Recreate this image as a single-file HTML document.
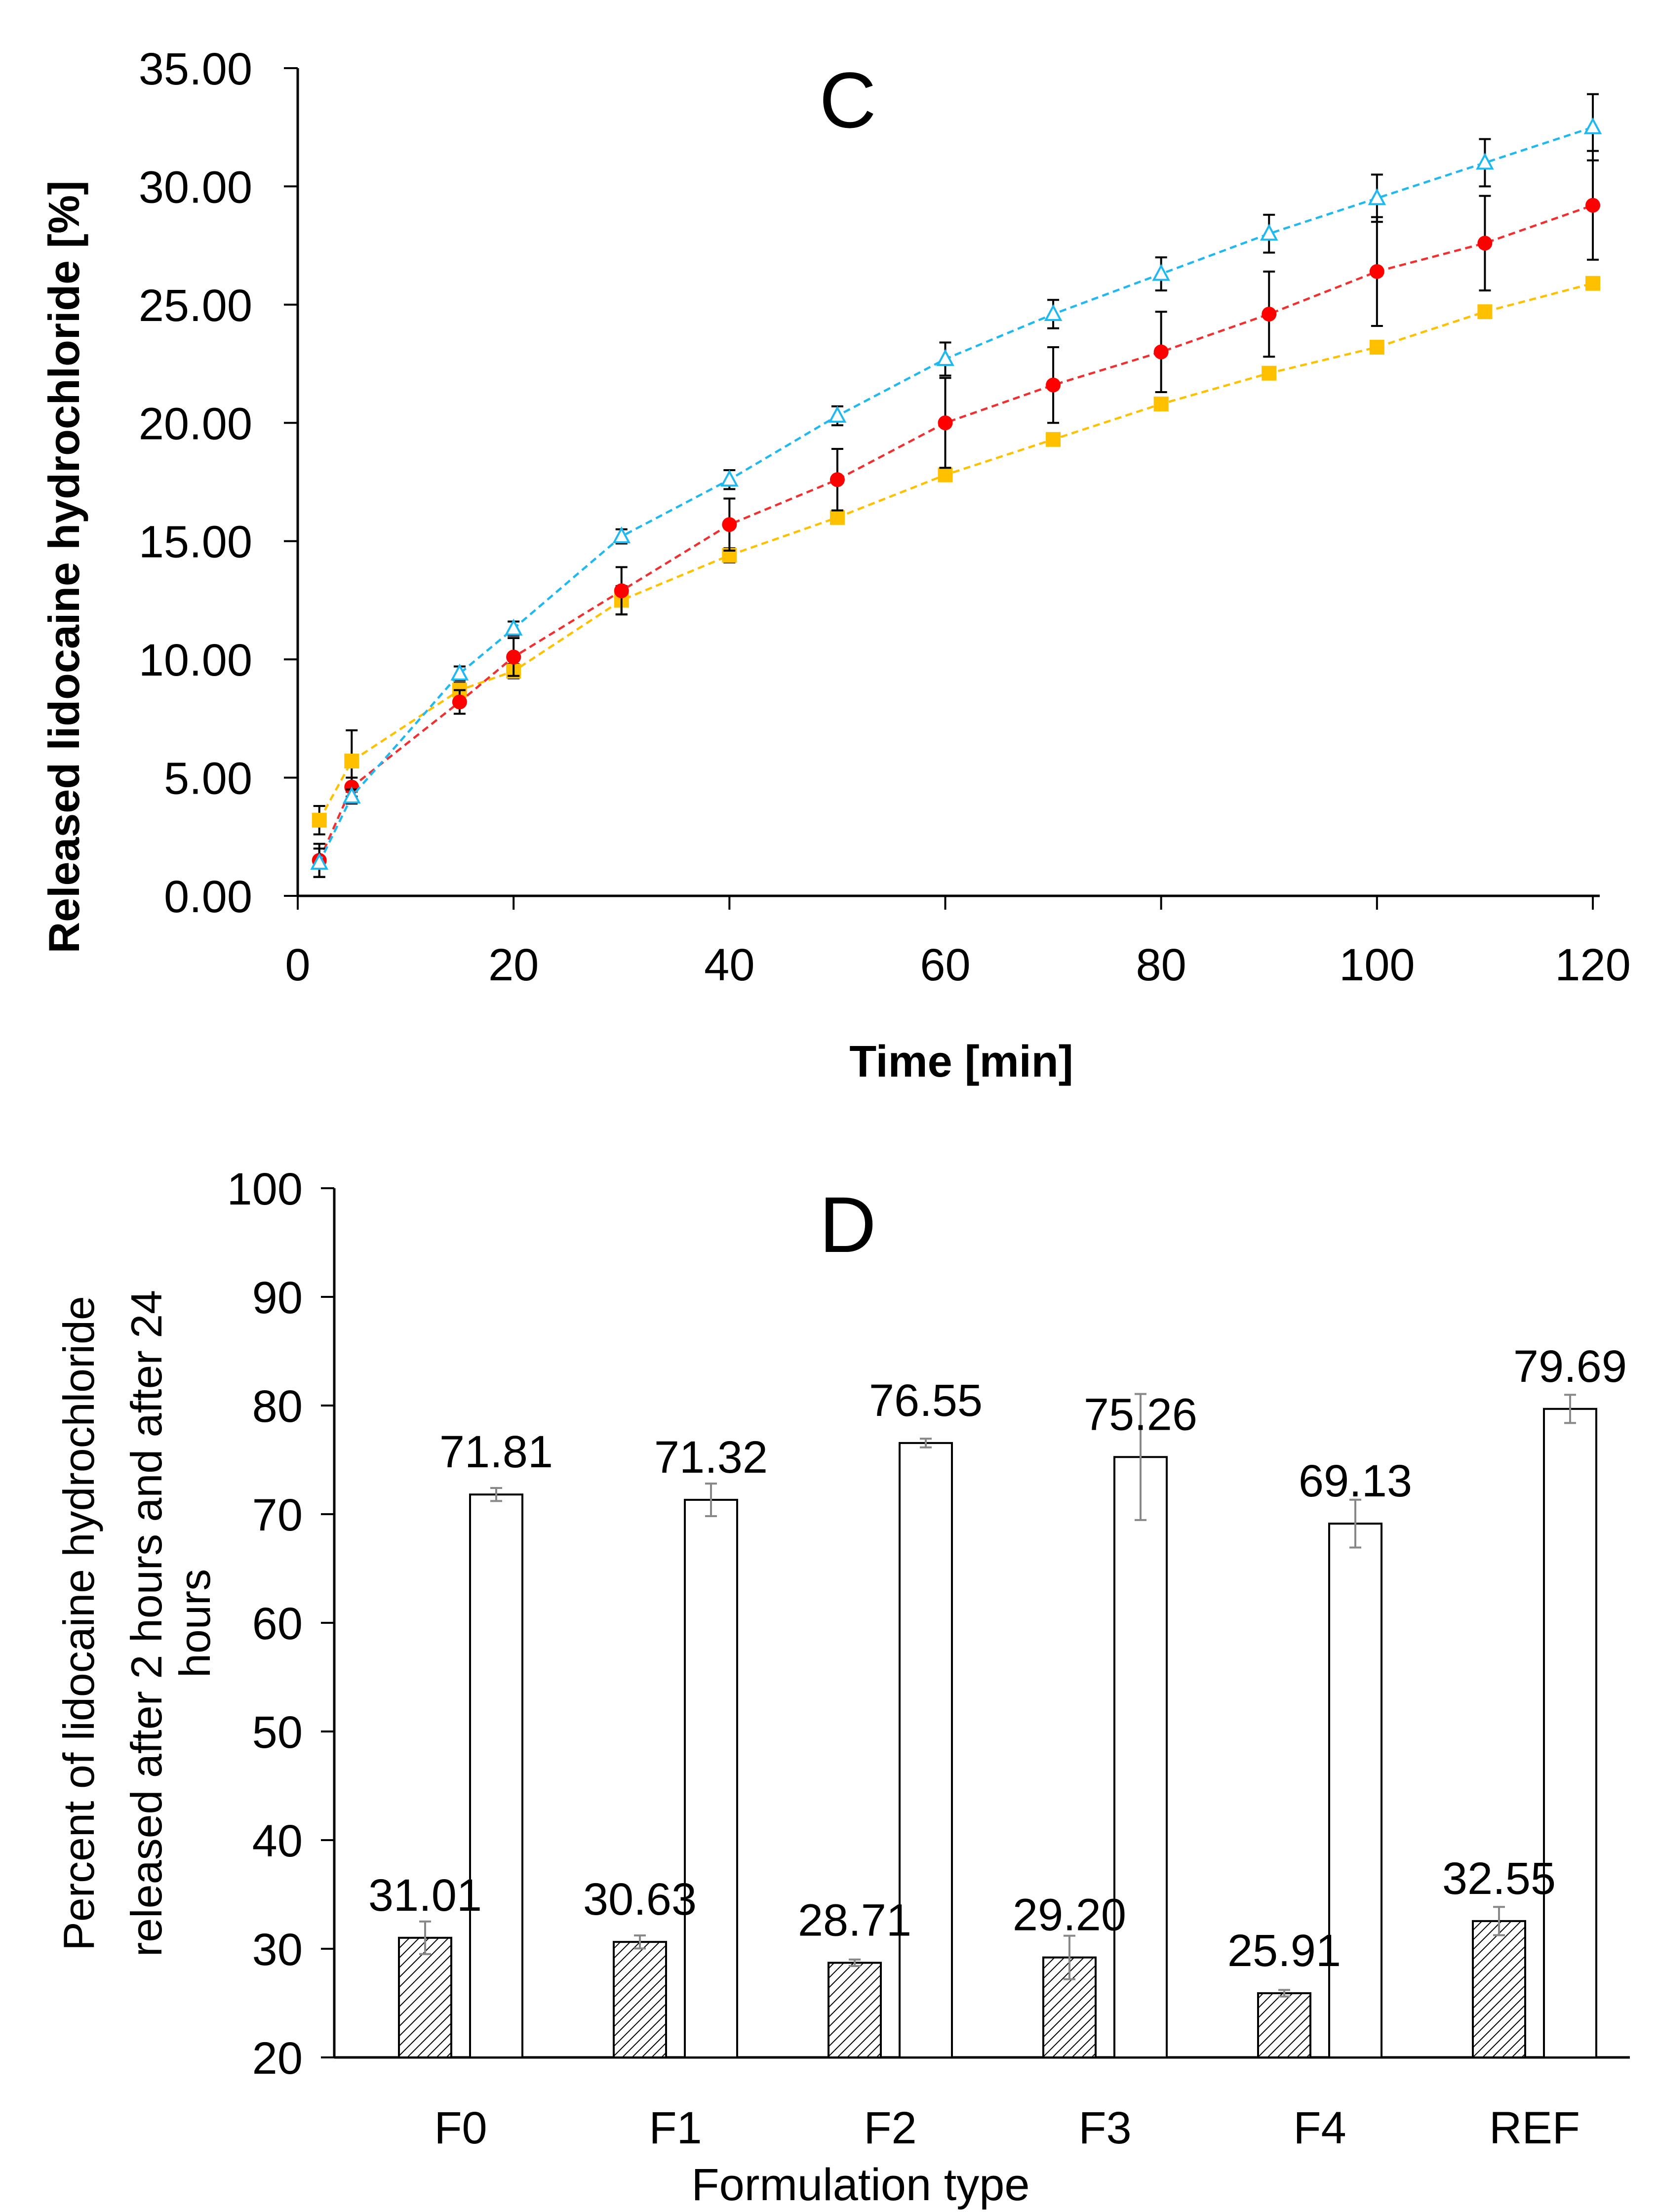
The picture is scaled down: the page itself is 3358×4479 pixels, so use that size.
<!DOCTYPE html>
<html><head><meta charset="utf-8"><style>
html,body{margin:0;padding:0;background:#fff}
svg{display:block}
text{font-family:"Liberation Sans",sans-serif}
</style></head><body>
<svg id="s" width="3358" height="4479" viewBox="0 0 3358 4479" xmlns="http://www.w3.org/2000/svg">
<defs>
<pattern id="hatch" patternUnits="userSpaceOnUse" width="14" height="14" patternTransform="rotate(45)">
<rect width="14" height="14" fill="#fff"/><line x1="0" y1="0" x2="0" y2="14" stroke="#000" stroke-width="4"/>
</pattern>
</defs>
<g id="top"></g>
<g id="bot"></g>
</svg>
<script>
const times=[2,5,15,20,30,40,50,60,70,80,90,100,110,120];
const blueVals=[1.4,4.2,9.4,11.3,15.2,17.6,20.3,22.7,24.6,26.3,28.0,29.5,31.0,32.5];
const blueErr=[0.6,0.3,0.3,0.3,0.3,0.4,0.4,0.7,0.6,0.7,0.8,1.0,1.0,1.4];
const redVals=[1.5,4.6,8.2,10.1,12.9,15.7,17.6,20.0,21.6,23.0,24.6,26.4,27.6,29.2];
const redErr=[0.7,0.4,0.5,0.8,1.0,1.1,1.3,1.9,1.6,1.7,1.8,2.3,2.0,2.3];
const yelVals=[3.2,5.7,8.7,9.5,12.5,14.4,16.0,17.8,19.3,20.8,22.1,23.2,24.7,25.9];
const yelErr=[0.6,1.3,0.3,0.3,0.6,0.3,0.2,0.2,0.2,0.2,0.2,0.2,0.2,0.2];
const yTicksTop=[0,5,10,15,20,25,30,35];
const xTicksTop=[0,20,40,60,80,100,120];

const cats=["F0","F1","F2","F3","F4","REF"];
const h2Vals=[31.01,30.63,28.71,29.20,25.91,32.55];
const h2Err=[1.5,0.6,0.3,2.0,0.3,1.3];
const h24Vals=[71.81,71.32,76.55,75.26,69.13,79.69];
const h24Err=[0.6,1.5,0.4,5.8,2.2,1.3];
const yTicksBot=[20,30,40,50,60,70,80,90,100];

const NS="http://www.w3.org/2000/svg";
function mk(parent,tag,attrs,txt){const e=document.createElementNS(NS,tag);for(const k in attrs)e.setAttribute(k,attrs[k]);if(txt!==undefined)e.textContent=txt;parent.appendChild(e);return e;}

// ---- top chart
const T=document.getElementById('top');
const xT=v=>603+(v/120)*(3226-603);
const yT=v=>1814-(v/35)*(1814-138);
let e;
e=mk(T,'line',{x1:603,y1:138,x2:603,y2:1814,stroke:'#000','stroke-width':5});


e=mk(T,'line',{x1:603,y1:1814,x2:3240,y2:1814,stroke:'#000','stroke-width':5});


yTicksTop.forEach(v=>{
  mk(T,'line',{x1:575,y1:yT(v),x2:603,y2:yT(v),stroke:'#000','stroke-width':4});
  e=mk(T,'text',{x:511,y:yT(v)+33,'text-anchor':'end','font-size':92},v.toFixed(2));
  
  
});
xTicksTop.forEach(v=>{
  mk(T,'line',{x1:xT(v),y1:1814,x2:xT(v),y2:1842,stroke:'#000','stroke-width':4});
  e=mk(T,'text',{x:xT(v),y:1985,'text-anchor':'middle','font-size':92},String(v));
  
  
});
e=mk(T,'text',{x:1947,y:2180,'text-anchor':'middle','font-size':90,'font-weight':'bold'},'Time [min]');


e=mk(T,'text',{x:0,y:0,'text-anchor':'middle','font-size':88,'font-weight':'bold',transform:'translate(160,1148) rotate(-90)'},'Released lidocaine hydrochloride [%]');


e=mk(T,'text',{x:1717,y:258,'text-anchor':'middle','font-size':160},'C');



function series(vals,errs,color,shape,name){
  const g=mk(T,'g',{});
  
  
  vals.forEach((v,i)=>{
    const x=xT(times[i]);
    mk(g,'line',{x1:x,y1:yT(v-errs[i]),x2:x,y2:yT(v+errs[i]),stroke:'#000','stroke-width':4});
    mk(g,'line',{x1:x-12,y1:yT(v-errs[i]),x2:x+12,y2:yT(v-errs[i]),stroke:'#000','stroke-width':4});
    mk(g,'line',{x1:x-12,y1:yT(v+errs[i]),x2:x+12,y2:yT(v+errs[i]),stroke:'#000','stroke-width':4});
  });
  const pts=vals.map((v,i)=>xT(times[i])+','+yT(v)).join(' ');
  mk(g,'polyline',{points:pts,fill:'none',stroke:color,'stroke-width':4.5,'stroke-dasharray':'14 9'});
  vals.forEach((v,i)=>{
    const x=xT(times[i]),y=yT(v);let m;
    if(shape==='tri') m=mk(g,'polygon',{points:`${x},${y-16} ${x-15},${y+12} ${x+15},${y+12}`,fill:'#fff',stroke:color,'stroke-width':4});
    else if(shape==='circ') m=mk(g,'circle',{cx:x,cy:y,r:15,fill:'#f00'});
    else m=mk(g,'rect',{x:x-15,y:y-15,width:30,height:30,fill:'#ffc000'});
    
    
  });
}
series(yelVals,yelErr,'#ffc000','sq','series-yellow');
series(redVals,redErr,'#f03030','circ','series-red');
series(blueVals,blueErr,'#20b8f0','tri','series-blue');

// ---- bottom chart
const B=document.getElementById('bot');
const yB=v=>4166-((v-20)/80)*(4166-2406);
const cx=i=>933+i*435;
e=mk(B,'line',{x1:677,y1:2406,x2:677,y2:4166,stroke:'#000','stroke-width':5});


e=mk(B,'line',{x1:677,y1:4166,x2:3301,y2:4166,stroke:'#000','stroke-width':5});


yTicksBot.forEach(v=>{
  mk(B,'line',{x1:650,y1:yB(v),x2:677,y2:yB(v),stroke:'#000','stroke-width':4});
  e=mk(B,'text',{x:613,y:yB(v)+33,'text-anchor':'end','font-size':92},String(v));
  
  
});
cats.forEach((c,i)=>{
  e=mk(B,'text',{x:cx(i),y:4340,'text-anchor':'middle','font-size':92},c);
  
  
});
function bar(v,err,x,fill,name){
  const r=mk(B,'rect',{x:x-53,y:yB(v),width:106,height:4166-yB(v),fill:fill,stroke:'#000','stroke-width':4});
  
  
  mk(B,'line',{x1:x,y1:yB(v-err),x2:x,y2:yB(v+err),stroke:'#888','stroke-width':4});
  mk(B,'line',{x1:x-12,y1:yB(v-err),x2:x+12,y2:yB(v-err),stroke:'#888','stroke-width':4});
  mk(B,'line',{x1:x-12,y1:yB(v+err),x2:x+12,y2:yB(v+err),stroke:'#888','stroke-width':4});
}
function label(v,x){
  const t=mk(B,'text',{x:x,y:yB(v)-55,'text-anchor':'middle','font-size':92},v.toFixed(2));
  
  
}
cats.forEach((c,i)=>{
  bar(h2Vals[i],h2Err[i],cx(i)-72,'url(#hatch)','bar-2h-'+c);
  bar(h24Vals[i],h24Err[i],cx(i)+72,'#fff','bar-24h-'+c);
});
cats.forEach((c,i)=>{
  label(h2Vals[i],cx(i)-72);
  label(h24Vals[i],cx(i)+72);
});
e=mk(B,'text',{x:1743,y:4455,'text-anchor':'middle','font-size':92},'Formulation type');


e=mk(B,'text',{x:0,y:0,'text-anchor':'middle','font-size':88,transform:'translate(190,3287) rotate(-90)'},'Percent of lidocaine hydrochloride');


e=mk(B,'text',{x:0,y:0,'text-anchor':'middle','font-size':88,transform:'translate(327,3287) rotate(-90)'},'released after 2 hours and after 24');


e=mk(B,'text',{x:0,y:0,'text-anchor':'middle','font-size':88,transform:'translate(425,3287) rotate(-90)'},'hours');


e=mk(B,'text',{x:1717,y:2535,'text-anchor':'middle','font-size':160},'D');


</script>
</body></html>
